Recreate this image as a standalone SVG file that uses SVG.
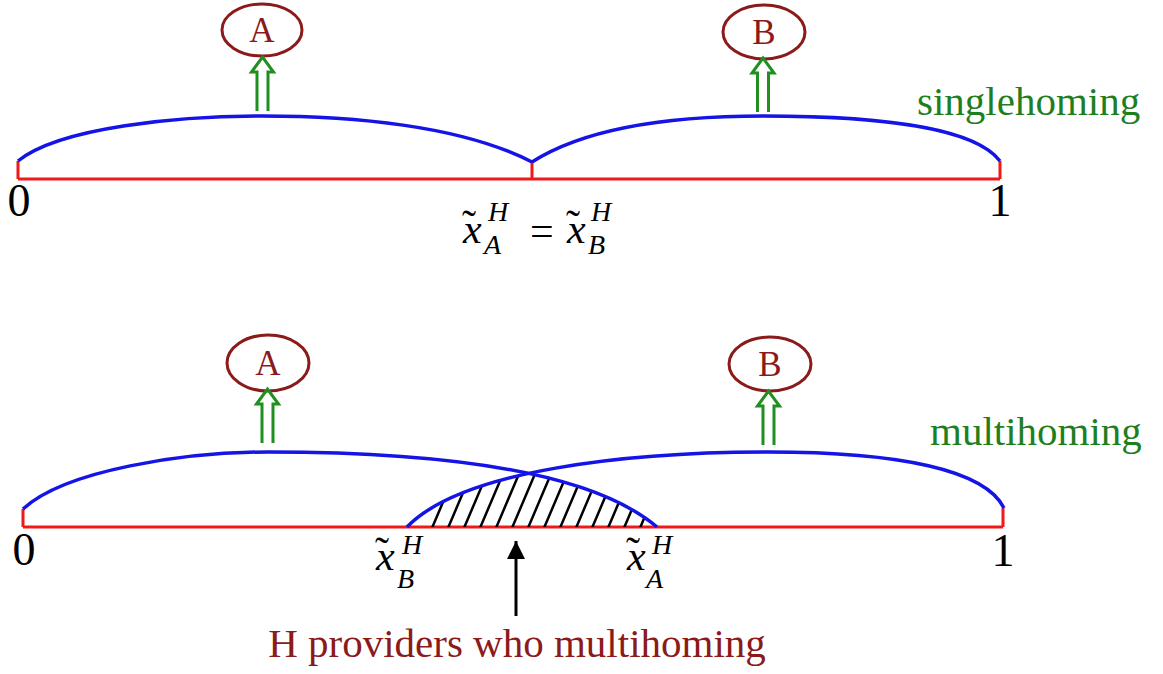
<svg xmlns="http://www.w3.org/2000/svg" width="1163" height="674" viewBox="0 0 1163 674">
<style>
.axis{stroke:#f01818;stroke-width:3;fill:none}
.arc{stroke:#1414e6;stroke-width:3.5;fill:none}
.node{fill:none;stroke:#8b1a1a;stroke-width:3}
.lbl{font-family:"Liberation Serif","Times New Roman",serif;fill:#8b1a1a;font-size:35px;text-anchor:middle}
.dbl{fill:none;stroke:#1f8f1f;stroke-width:3;stroke-linejoin:miter}
.green{font-family:"Liberation Serif","Times New Roman",serif;fill:#1f7f1f;font-size:41px}
.num{font-family:"Liberation Serif","Times New Roman",serif;fill:#000;font-size:46px;text-anchor:middle}
.math{font-family:"Liberation Serif","Times New Roman",serif;font-style:italic;fill:#000;font-size:42px}
.ms{font-size:28px}
.tl{font-style:normal}
.hatch{stroke:#000;stroke-width:2.5}
</style>
<defs>
<path id="dblArrow" d="M-5.5,54 V15 H-11 L0,0 L11,15 H5.5 V54"/>
<marker id="blackHead" viewBox="0 0 10 10" refX="10" refY="5" markerWidth="6.5" markerHeight="6" orient="auto" markerUnits="strokeWidth">
<path d="M0,0 L10,5 L0,10 Z" fill="#000"/>
</marker>
<clipPath id="underA"><path d="M23,509 C65,470 185,452 268,452 C420,452 585,466 657,527 L23,527 Z"/></clipPath>
<clipPath id="underB"><path d="M407,527 C462,470 628,452 768,452 C900,452 985,470 1004,508 L1004,527 Z"/></clipPath>
</defs>

<!-- top panel -->
<g id="top-axis">
<path class="axis" d="M18,179 H1000 M18,161 V179 M532,162 V179 M1000,161 V179"/>
<text class="num" x="19" y="216">0</text>
<text class="num" x="1000" y="216">1</text>
</g>
<g id="top-arcs">
<path class="arc" d="M18,161 C60,127 180,116 262,116 C350,116 460,125 532,162"/>
<path class="arc" d="M532,162 C590,125 680,116 763,116 C880,116 975,128 1000,161"/>
</g>
<g id="top-node-A">
<ellipse class="node" cx="262" cy="30" rx="40" ry="26"/>
<text class="lbl" x="262" y="42">A</text>
</g>
<g id="top-node-B">
<ellipse class="node" cx="764" cy="32" rx="41" ry="27"/>
<text class="lbl" x="764" y="44">B</text>
</g>
<text class="green" x="917" y="115">singlehoming</text>
<text id="top-formula" class="math"><tspan x="463" y="243">x</tspan><tspan class="tl" x="462" y="239">˜</tspan><tspan class="ms" x="488" y="221">H</tspan><tspan class="ms" x="484" y="254">A</tspan><tspan class="tl" x="530" y="245">=</tspan><tspan x="567" y="243">x</tspan><tspan class="tl" x="566" y="239">˜</tspan><tspan class="ms" x="591" y="221">H</tspan><tspan class="ms" x="588" y="254">B</tspan></text>

<!-- bottom panel -->
<g id="bottom-axis">
<path class="axis" d="M23,527 H1003 M23,509 V527 M1003,508 V527"/>
<text class="num" x="24" y="565">0</text>
<text class="num" x="1003" y="566">1</text>
</g>
<g id="hatch-region" clip-path="url(#underA)">
<g clip-path="url(#underB)">
<path class="hatch" d="M432,528 l34,-80 M448,528 l34,-80 M464,528 l34,-80 M480,528 l34,-80 M496,528 l34,-80 M512,528 l34,-80 M528,528 l34,-80 M544,528 l34,-80 M560,528 l34,-80 M576,528 l34,-80 M592,528 l34,-80 M608,528 l34,-80 M624,528 l34,-80 M640,528 l34,-80"/>
</g>
</g>
<g id="bottom-arcs">
<path class="arc" d="M23,509 C65,470 185,452 268,452 C420,452 585,466 657,527"/>
<path class="arc" d="M407,527 C462,470 628,452 768,452 C900,452 985,470 1004,508"/>
</g>
<g id="bottom-node-A">
<ellipse class="node" cx="268" cy="363" rx="41" ry="28"/>
<text class="lbl" x="268" y="375">A</text>
</g>
<g id="bottom-node-B">
<ellipse class="node" cx="770" cy="364" rx="41" ry="27"/>
<text class="lbl" x="770" y="376">B</text>
</g>
<text class="green" x="930" y="445">multihoming</text>
<text id="label-xB" class="math"><tspan x="376" y="570">x</tspan><tspan class="tl" x="375" y="566">˜</tspan><tspan class="ms" x="402" y="554">H</tspan><tspan class="ms" x="397" y="588">B</tspan></text>
<text id="label-xA" class="math"><tspan x="627" y="570">x</tspan><tspan class="tl" x="626" y="566">˜</tspan><tspan class="ms" x="652" y="554">H</tspan><tspan class="ms" x="646" y="588">A</tspan></text>
<text id="caption" x="517" y="657" font-family="Liberation Serif, Times New Roman, serif" font-size="41" fill="#8b1a1a" text-anchor="middle">H providers who multihoming</text>

<!-- connectors -->
<g id="connectors">
<use href="#dblArrow" class="dbl" transform="translate(262.5,57)"/>
<use href="#dblArrow" class="dbl" transform="translate(763,58)"/>
<use href="#dblArrow" class="dbl" transform="translate(267.5,389)"/>
<use href="#dblArrow" class="dbl" transform="translate(768.5,391)"/>
<path d="M516,616 V541" stroke="#000" stroke-width="3" fill="none" marker-end="url(#blackHead)"/>
</g>
</svg>
